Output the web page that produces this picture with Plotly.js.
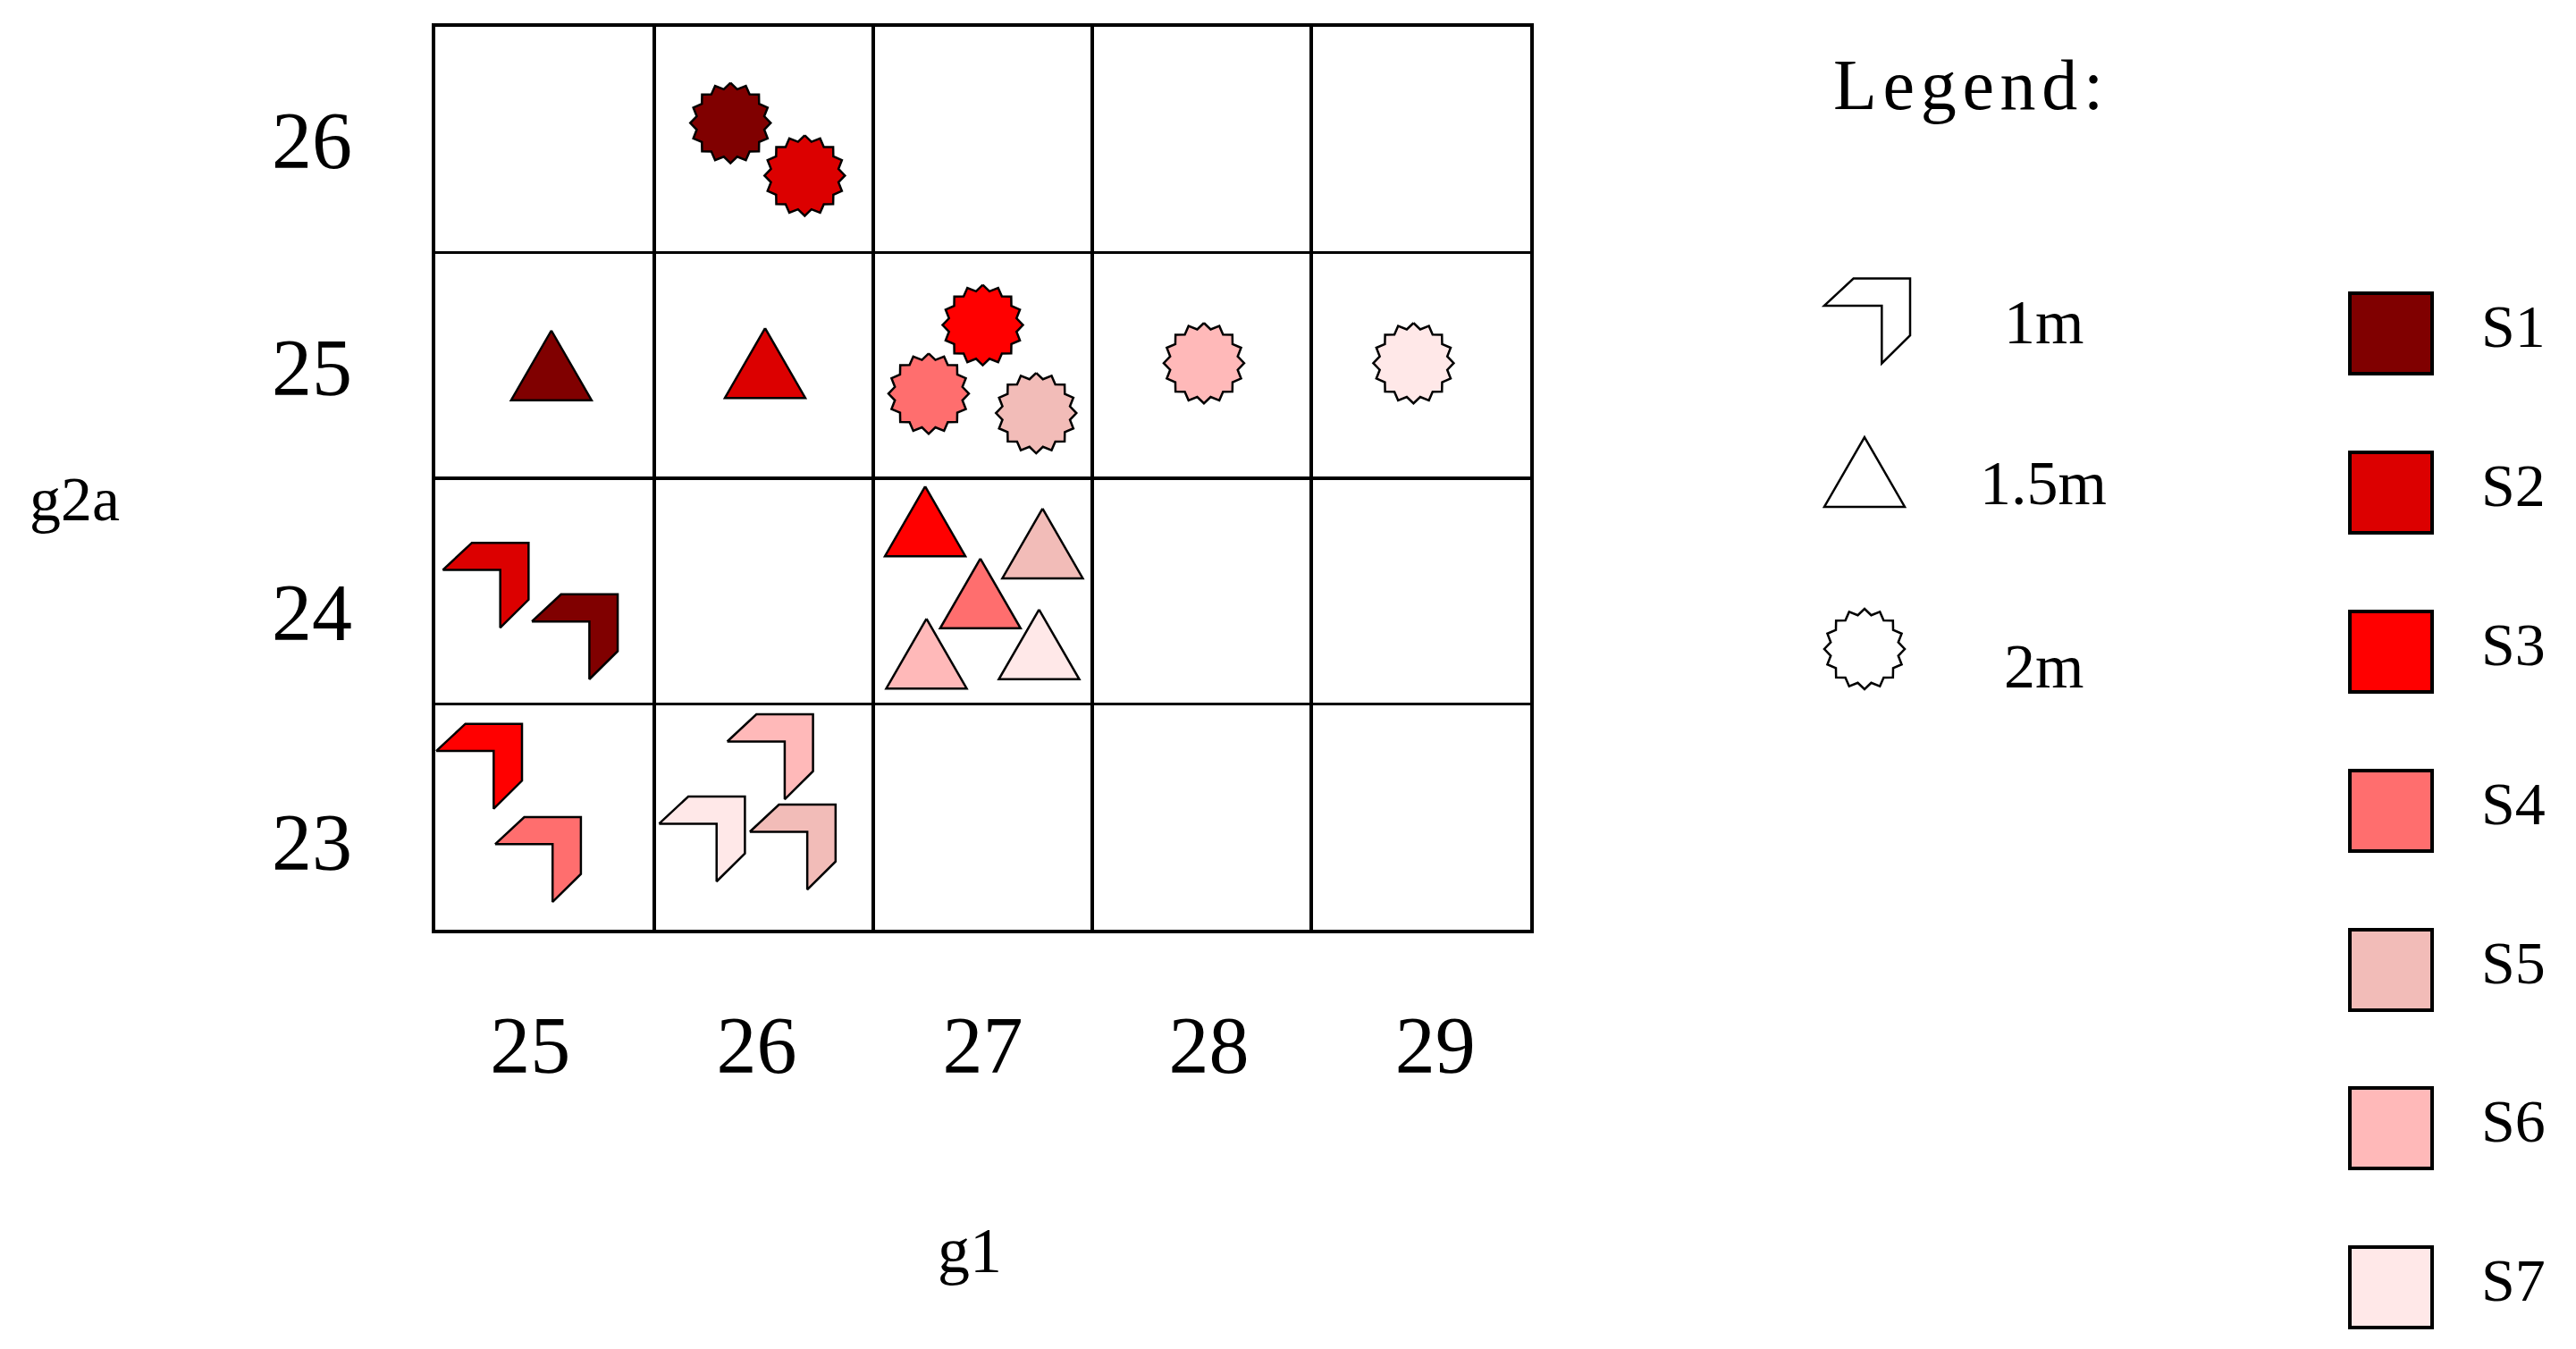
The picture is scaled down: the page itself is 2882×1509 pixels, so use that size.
<!DOCTYPE html>
<html><head><meta charset="utf-8">
<script src="https://cdn.plot.ly/plotly-3.0.1.min.js"></script>
<style>html,body{margin:0;padding:0;background:#fff}#chart{width:2882px;height:1509px}</style>
</head><body><div id="chart"></div>
<script>
// ---------------- data ----------------
const samples = ['S1','S2','S3','S4','S5','S6','S7'];
const sampleColors = ['#800000','#DC0000','#FF0000','#FF6E6E','#F2BCB8','#FFB9B9','#FFE8E8'];
const depths = ['1m','1.5m','2m'];
const g1Ticks = [25,26,27,28,29];
const g2aTicks = [23,24,25,26];
// g1 / g2a value of each sample (S1..S7) at each depth
const g1_1m   = [25,25,25,25,26,26,26];
const g2a_1m  = [24,24,23,23,23,23,23];
const g1_15m  = [25,26,27,27,27,27,27];
const g2a_15m = [25,25,24,24,24,24,24];
const g1_2m   = [26,26,27,27,27,28,29];
const g2a_2m  = [26,26,25,25,25,25,25];

// ---------------- layout / placement (not data) ----------------
const W = 2882, H = 1509;
const L = 487, R = 1712, T = 30, B = 1040;
const xRange = [24.5, 29.5], yRange = [22.5, 26.5];
const pxX = (R - L) / (xRange[1] - xRange[0]);
const pxY = (B - T) / (yRange[1] - yRange[0]);
// placement of each symbol inside its cell (so that overlapping ones stay visible)
const jitter_1m  = [[0.137,-0.202],[-0.27,0.026],[-0.30,0.224],[-0.031,-0.189],[0.132,-0.134],[0.029,0.266],[-0.282,-0.098]];
const jitter_15m = [[0.03,0],[0.006,0.01],[-0.263,0.309],[-0.011,-0.01],[0.273,0.211],[-0.257,-0.277],[0.257,-0.236]];
const jitter_2m  = [[-0.152,0.074],[0.187,-0.159],[0,0.179],[-0.247,-0.125],[0.244,-0.211],[0.01,0.01],[-0.033,0.01]];
const xLabelSpread = 1.033;                       // tick labels sit slightly wider than the cells
const yLabelShift = [-0.109,-0.091,-0.006,0];      // per tick label (23..26)
const FONT = 'Liberation Serif, Times New Roman, serif';

// symbol templates in pixels (y downward), centred on bbox
function chevron(){ const w=96,h=95;
  return [[0,.32],[.34,0],[1,0],[1,.67],[.67,1],[.67,.32]].map(([u,v])=>[(u-.5)*w,(v-.5)*h]); }
function triangle(){ return [[0,-39],[45,39],[-45,39]]; }
function star(){ const pts=[], n=16, Ro=45, Ri=38.5;
  for(let k=0;k<2*n;k++){ const a=-Math.PI/2 + k*Math.PI/n, r=k%2?Ri:Ro; pts.push([r*Math.cos(a), r*Math.sin(a)]); }
  return pts; }
const symbolOf = {'1m':chevron(), '1.5m':triangle(), '2m':star()};

const groups = [
  {depth:'1m',   g1:g1_1m,  g2a:g2a_1m,  jit:jitter_1m},
  {depth:'1.5m', g1:g1_15m, g2a:g2a_15m, jit:jitter_15m},
  {depth:'2m',   g1:g1_2m,  g2a:g2a_2m,  jit:jitter_2m}
];

const traces = [];
groups.forEach(g=>{
  const tpl = symbolOf[g.depth];
  samples.forEach((s,i)=>{
    const cx = g.g1[i] + g.jit[i][0], cy = g.g2a[i] + g.jit[i][1];
    const xs = tpl.map(p=>cx + p[0]/pxX), ys = tpl.map(p=>cy - p[1]/pxY);
    xs.push(xs[0]); ys.push(ys[0]);
    traces.push({type:'scatter', mode:'lines', x:xs, y:ys, fill:'toself',
      fillcolor:sampleColors[i], line:{color:'#000', width:2.5},
      hoverinfo:'text', text:`${s} ${g.depth}: g1=${g.g1[i]}, g2a=${g.g2a[i]}`,
      showlegend:false});
  });
});

// ---------------- custom legend (paper coords) ----------------
const px2x = p => (p - L) / (R - L);
const px2y = p => (B - p) / (B - T);
const shapes = [], annotations = [];
function pathAt(tpl, cxp, cyp){
  return tpl.map((p,k)=>(k?'L':'M')+px2x(cxp+p[0]).toFixed(5)+','+px2y(cyp+p[1]).toFixed(5)).join(' ')+' Z';
}
const legSymCenters = [[2089,359],[2086,528],[2086,726]];
const legSymLabelY = [361,540,745];
depths.forEach((d,k)=>{
  shapes.push({type:'path', xref:'paper', yref:'paper', path:pathAt(symbolOf[d], legSymCenters[k][0], legSymCenters[k][1]),
    fillcolor:'#fff', line:{color:'#000', width:2.5}});
  annotations.push({xref:'paper', yref:'paper', x:px2x(2286), y:px2y(legSymLabelY[k]), text:d, showarrow:false,
    xanchor:'center', yanchor:'middle', font:{family:FONT, size:70, color:'#000'}});
});
const swatchY = [373,551,729,907,1085,1262,1440];
samples.forEach((s,i)=>{
  shapes.push({type:'rect', xref:'paper', yref:'paper', x0:px2x(2629), x1:px2x(2721),
    y0:px2y(swatchY[i]-45), y1:px2y(swatchY[i]+45), fillcolor:sampleColors[i], line:{color:'#000', width:4}});
  annotations.push({xref:'paper', yref:'paper', x:px2x(2812), y:px2y(swatchY[i]-8), text:s, showarrow:false,
    xanchor:'center', yanchor:'middle', font:{family:FONT, size:68, color:'#000'}});
});
annotations.push({xref:'paper', yref:'paper', x:px2x(2202), y:px2y(95), text:'L\u200Ae\u200Ag\u200Ae\u200An\u200Ad\u200A:', showarrow:false,
  xanchor:'center', yanchor:'middle', font:{family:FONT, size:80, color:'#000'}});
// axis titles (horizontal, as in the original)
annotations.push({xref:'paper', yref:'paper', x:px2x(1085), y:px2y(1399), text:'g1', showarrow:false,
  xanchor:'center', yanchor:'middle', font:{family:FONT, size:72, color:'#000'}});
annotations.push({xref:'paper', yref:'paper', x:px2x(83), y:px2y(558), text:'g2a', showarrow:false,
  xanchor:'center', yanchor:'middle', font:{family:FONT, size:70, color:'#000'}});

const layout = {
  width:W, height:H, paper_bgcolor:'#fff', plot_bgcolor:'#fff',
  margin:{l:L, r:W-R, t:T, b:H-B, pad:0},
  showlegend:false,
  xaxis:{range:xRange, showgrid:false, zeroline:false, showline:true, mirror:true, linecolor:'#000', linewidth:4,
    tickmode:'array', tickvals:g1Ticks.map(v=>27+(v-27)*xLabelSpread), ticktext:g1Ticks.map(String),
    ticks:'outside', ticklen:48, tickcolor:'rgba(0,0,0,0)',
    tickfont:{family:FONT, size:90, color:'#000'},
    minor:{tickmode:'linear', tick0:0.5, dtick:1, showgrid:true, gridcolor:'#000', gridwidth:3.5, ticks:''},
    fixedrange:true},
  yaxis:{range:yRange, showgrid:false, zeroline:false, showline:true, mirror:true, linecolor:'#000', linewidth:4,
    tickmode:'array', tickvals:g2aTicks.map((v,i)=>v+yLabelShift[i]), ticktext:g2aTicks.map(String),
    ticks:'outside', ticklen:71, tickcolor:'rgba(0,0,0,0)',
    tickfont:{family:FONT, size:90, color:'#000'},
    minor:{tickmode:'linear', tick0:0.5, dtick:1, showgrid:true, gridcolor:'#000', gridwidth:3.5, ticks:''},
    fixedrange:true},
  shapes, annotations
};
Plotly.newPlot('chart', traces, layout, {staticPlot:true, displayModeBar:false});
</script></body></html>
